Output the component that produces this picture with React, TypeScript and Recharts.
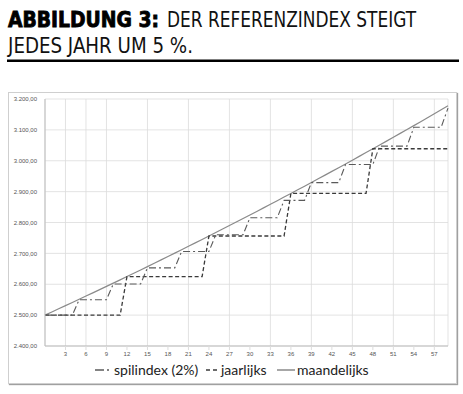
import { CartesianGrid, Line, LineChart, XAxis, YAxis } from "recharts";

const months = [
  0, 1, 2, 3, 4, 5, 6, 7, 8, 9, 10, 11, 12, 13, 14, 15, 16, 17, 18, 19,
  20, 21, 22, 23, 24, 25, 26, 27, 28, 29, 30, 31, 32, 33, 34, 35, 36, 37, 38, 39,
  40, 41, 42, 43, 44, 45, 46, 47, 48, 49, 50, 51, 52, 53, 54, 55, 56, 57, 58, 59,
];

// spilindex: aanpassing telkens de index 2% boven de spil komt
const spilindex = [
  2500, 2500, 2500, 2500, 2500, 2550, 2550, 2550, 2550, 2550,
  2601, 2601, 2601, 2601, 2601, 2653, 2653, 2653, 2653, 2653,
  2706.1, 2706.1, 2706.1, 2706.1, 2706.1, 2760.2, 2760.2, 2760.2, 2760.2, 2760.2,
  2815.4, 2815.4, 2815.4, 2815.4, 2815.4, 2871.7, 2871.7, 2871.7, 2871.7, 2929.2,
  2929.2, 2929.2, 2929.2, 2929.2, 2987.7, 2987.7, 2987.7, 2987.7, 2987.7, 3047.5,
  3047.5, 3047.5, 3047.5, 3047.5, 3108.4, 3108.4, 3108.4, 3108.4, 3108.4, 3170.6,
];

const jaarlijks = [
  2500, 2500, 2500, 2500, 2500, 2500, 2500, 2500, 2500, 2500, 2500, 2500,
  2625, 2625, 2625, 2625, 2625, 2625, 2625, 2625, 2625, 2625, 2625, 2625,
  2756.3, 2756.3, 2756.3, 2756.3, 2756.3, 2756.3, 2756.3, 2756.3, 2756.3, 2756.3, 2756.3, 2756.3,
  2894.1, 2894.1, 2894.1, 2894.1, 2894.1, 2894.1, 2894.1, 2894.1, 2894.1, 2894.1, 2894.1, 2894.1,
  3038.8, 3038.8, 3038.8, 3038.8, 3038.8, 3038.8, 3038.8, 3038.8, 3038.8, 3038.8, 3038.8, 3038.8,
];

const maandelijks = [
  2500, 2510.2, 2520.4, 2530.7, 2541, 2551.3, 2561.7, 2572.2, 2582.7, 2593.2, 2603.7, 2614.3,
  2625, 2635.7, 2646.4, 2657.2, 2668, 2678.9, 2689.8, 2700.8, 2711.8, 2722.8, 2733.9, 2745.1,
  2756.3, 2767.5, 2778.8, 2790.1, 2801.5, 2812.9, 2824.3, 2835.8, 2847.4, 2859, 2870.6, 2882.3,
  2894.1, 2905.9, 2917.7, 2929.6, 2941.5, 2953.5, 2965.5, 2977.6, 2989.7, 3001.9, 3014.2, 3026.4,
  3038.8, 3051.2, 3063.6, 3076.1, 3088.6, 3101.2, 3113.8, 3126.5, 3139.2, 3152, 3164.9, 3177.8,
];

const xTicks = [3, 6, 9, 12, 15, 18, 21, 24, 27, 30, 33, 36, 39, 42, 45, 48, 51, 54, 57];
const yTicks = [2400, 2500, 2600, 2700, 2800, 2900, 3000, 3100, 3200];

const data = months.map((m, i) => ({
  month: m,
  spilindex: spilindex[i],
  jaarlijks: jaarlijks[i],
  maandelijks: maandelijks[i],
}));

const fmt = (v: number) => {
  const s = v.toFixed(0);
  return s.slice(0, 1) + "." + s.slice(1) + ",00";
};

const titleFont = "'Liberation Sans Narrow', 'DejaVu Sans Condensed', sans-serif";
const legendFont = "Lato, 'Open Sans', sans-serif";

export default function App() {
  return (
    <div style={{ position: "absolute", left: 0, top: 0, width: 463, height: 394, background: "#fff" }}>
      <svg width={463} height={66} style={{ position: "absolute", left: 0, top: 0 }}>
        <text x={8} y={27} fontFamily={titleFont} fontSize={21} fontWeight={700} fill="#000"
          stroke="#000" strokeWidth={0.8} textLength={151} lengthAdjust="spacingAndGlyphs">
          ABBILDUNG 3:
        </text>
        <text x={167} y={27} fontFamily={titleFont} fontSize={21} fill="#111"
          textLength={249} lengthAdjust="spacingAndGlyphs">
          DER REFERENZINDEX STEIGT
        </text>
        <text x={8} y={53} fontFamily={titleFont} fontSize={21} fill="#111"
          textLength={185} lengthAdjust="spacingAndGlyphs">
          JEDES JAHR UM 5 %.
        </text>
        <rect x={7} y={59.5} width={452} height={2.5} fill="#000" />
      </svg>

      <div style={{
        position: "absolute", left: 8, top: 92, width: 449, height: 292,
        border: "1px solid #cfcfcf", boxSizing: "border-box", boxShadow: "1px 1px 1px #a0a0a0",
      }} />

      <div style={{ position: "absolute", left: 8, top: 92 }}>
        <LineChart width={449} height={292} data={data} margin={{ top: 7, right: 9, bottom: 0, left: 0 }}>
          <CartesianGrid stroke="#dcdcdc" strokeWidth={0.8} />
          <XAxis dataKey="month" type="number" domain={[0, 59]} ticks={xTicks} height={38}
            tick={{ fontSize: 6, fill: "#555", fontFamily: "'Liberation Sans', sans-serif" }}
            tickLine={{ stroke: "#dcdcdc" }} tickSize={4} axisLine={{ stroke: "#bdbdbd" }} />
          <YAxis type="number" domain={[2400, 3200]} ticks={yTicks} width={37} tickFormatter={fmt}
            tick={{ fontSize: 6, fill: "#555", fontFamily: "'Liberation Sans', sans-serif" }}
            tickLine={false} axisLine={{ stroke: "#bdbdbd" }} />
          <Line dataKey="maandelijks" stroke="#8a8a8a" strokeWidth={1.2} dot={false} isAnimationActive={false} />
          <Line dataKey="jaarlijks" stroke="#3a3a3a" strokeWidth={1.3} strokeDasharray="4 2.5" dot={false} isAnimationActive={false} />
          <Line dataKey="spilindex" stroke="#5a5a5a" strokeWidth={1.1} strokeDasharray="7 3 2 3" dot={false} isAnimationActive={false} />
        </LineChart>
      </div>

      <svg width={463} height={24} style={{ position: "absolute", left: 0, top: 359 }}>
        <line x1={95} x2={104} y1={11} y2={11} stroke="#5a5a5a" strokeWidth={1.5} />
        <line x1={107} x2={109} y1={11} y2={11} stroke="#5a5a5a" strokeWidth={1.5} />
        <text x={114} y={16} fontFamily={legendFont} fontSize={14} fill="#222">spilindex (2%)</text>
        <line x1={206} x2={210} y1={11} y2={11} stroke="#3a3a3a" strokeWidth={1.5} />
        <line x1={213} x2={217} y1={11} y2={11} stroke="#3a3a3a" strokeWidth={1.5} />
        <text x={221} y={16} fontFamily={legendFont} fontSize={14} fill="#222">jaarlijks</text>
        <line x1={277} x2={295} y1={11} y2={11} stroke="#8a8a8a" strokeWidth={1.5} />
        <text x={297} y={16} fontFamily={legendFont} fontSize={14} fill="#222">maandelijks</text>
      </svg>
    </div>
  );
}
